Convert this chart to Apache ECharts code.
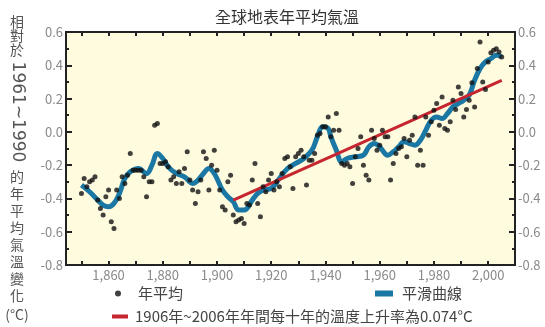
<!DOCTYPE html>
<html>
<head>
<meta charset="utf-8">
<script src="https://cdn.jsdelivr.net/npm/echarts@6/dist/echarts.min.js"></script>
<style>
html,body{margin:0;padding:0;background:#fff}
#main{width:545px;height:327px}
</style>
</head>
<body>
<div id="main"></div>
<script>
// 年平均 (1850 起逐年)
var annualStart = 1850;
var annualValues = [
  -0.37,-0.28,-0.33,-0.30,-0.29,-0.27,-0.41,-0.46,-0.50,-0.39,
  -0.35,-0.54,-0.58,-0.35,-0.40,-0.27,-0.31,-0.26,-0.13,-0.23,
  -0.23,-0.23,-0.23,-0.27,-0.39,-0.30,-0.30, 0.04, 0.05,-0.19,
  -0.19,-0.18,-0.21,-0.29,-0.27,-0.31,-0.24,-0.31,-0.22,-0.12,
  -0.29,-0.35,-0.43,-0.36,-0.29,-0.12,-0.16,-0.35,-0.20,-0.11,
  -0.23,-0.35,-0.45,-0.47,-0.30,-0.26,-0.50,-0.54,-0.53,-0.52,
  -0.55,-0.43,-0.44,-0.29,-0.19,-0.43,-0.51,-0.33,-0.36,-0.29,
  -0.25,-0.35,-0.30,-0.33,-0.25,-0.16,-0.15,-0.21,-0.34,-0.15,
  -0.13,-0.11,-0.15,-0.32,-0.17,-0.17,-0.13,-0.02,-0.01, 0.03,
   0.03, 0.09,-0.03, 0.01, 0.11, 0.01,-0.19,-0.20,-0.19,-0.21,
  -0.31,-0.15,-0.10,-0.03,-0.20,-0.26,-0.29, 0.01,-0.04,-0.11,
  -0.08, 0.01,-0.03,-0.03,-0.29,-0.19,-0.13,-0.10,-0.09,-0.04,
  -0.15,-0.05,-0.02, 0.09,-0.20,-0.11,-0.20, 0.09,-0.02, 0.06,
   0.13, 0.17, 0.04, 0.21, 0.02, 0.01, 0.06, 0.19, 0.135,0.27,
   0.23, 0.09, 0.135,0.19, 0.295,0.15, 0.38, 0.54, 0.30, 0.255,
   0.42, 0.475,0.49, 0.50, 0.48, 0.45
];

// 平滑曲線
var smoothYears = [1850,1853,1856,1858,1860,1862,1864,1866,1868,1871,1874,1876,1878,1880,1882,1885,1888,1891,1893,1895,1897,1899,1902,1904,1906,1908,1910,1913,1915,1917,1920,1923,1926,1929,1932,1935,1937,1939,1941,1942,1944,1946,1948,1951,1954,1956,1958,1960,1963,1965,1967,1969,1971,1973,1975,1977,1979,1981,1983,1985,1987,1989,1991,1993,1995,1997,1999,2001,2003,2005];
var smoothValues = [-0.32,-0.36,-0.41,-0.44,-0.45,-0.43,-0.37,-0.28,-0.24,-0.22,-0.25,-0.20,-0.13,-0.16,-0.21,-0.25,-0.27,-0.31,-0.29,-0.25,-0.22,-0.25,-0.35,-0.39,-0.42,-0.47,-0.47,-0.41,-0.37,-0.35,-0.34,-0.28,-0.22,-0.19,-0.16,-0.11,-0.03,0.03,0.02,-0.03,-0.11,-0.18,-0.16,-0.15,-0.14,-0.09,-0.07,-0.09,-0.14,-0.12,-0.09,-0.06,-0.07,-0.08,-0.05,0.01,0.07,0.09,0.08,0.11,0.15,0.17,0.19,0.22,0.31,0.38,0.42,0.44,0.46,0.45];

// 趨勢線端點
var trendYears = [1906, 2005];
var trendValues = [-0.41, 0.31];

var xTickYears = [1850,1860,1870,1880,1890,1900,1910,1920,1930,1940,1950,1960,1970,1980,1990,2000];
var xLabelYears = [1860,1880,1900,1920,1940,1960,1980,2000];

var titleText = '全球地表年平均氣溫';
var annualName = '年平均';
var smoothName = '平滑曲線';
var trendName = '1906年~2006年年間每十年的溫度上升率為0.074°C';

var cjk = '"Noto Sans CJK TC", "Noto Sans", sans-serif';
var axisColor = '#222';
var labelColor = '#8a8a8a';

var scatterData = annualValues.map(function (v, i) { return [annualStart + i, v]; });
var smoothData = smoothYears.map(function (y, i) { return [y, smoothValues[i]]; });
var trendData = trendYears.map(function (y, i) { return [y, trendValues[i]]; });

function xAxisOpt(pos, showLabel) {
  return {
    type: 'value', position: pos, min: 1844.3, max: 2009.9,
    axisLine: { show: true, onZero: false, lineStyle: { color: axisColor, width: 2 } },
    axisTick: { show: true, inside: true, length: 4, customValues: xTickYears, lineStyle: { color: axisColor, width: 2 } },
    axisLabel: { show: showLabel, customValues: xLabelYears, color: labelColor, fontSize: 13, margin: 4, fontFamily: cjk },
    splitLine: { show: false }
  };
}
function yAxisOpt(pos) {
  return {
    type: 'value', position: pos, min: -0.8, max: 0.6, interval: 0.2,
    axisLine: { show: true, onZero: false, lineStyle: { color: axisColor, width: 2 } },
    axisTick: { show: true, inside: true, length: 6, lineStyle: { color: axisColor, width: 2 } },
    minorTick: { show: true, splitNumber: 2, length: 3, lineStyle: { color: axisColor, width: 2 } },
    axisLabel: { color: labelColor, fontSize: 13, margin: 3, fontFamily: cjk,
      formatter: function (v) { return v.toFixed(1); } },
    splitLine: { show: false }, minorSplitLine: { show: false }
  };
}

var chart = echarts.init(document.getElementById('main'));
chart.setOption({
  animation: false,
  title: {
    text: titleText, left: 210, top: 4,
    textStyle: { fontSize: 16, fontWeight: 'normal', color: '#333', fontFamily: cjk }
  },
  grid: {
    left: 66, right: 30, top: 32, bottom: 62, containLabel: false, outerBoundsMode: 'none',
    show: true, backgroundColor: '#fefbdf', borderColor: axisColor, borderWidth: 2
  },
  legend: [
    { data: [annualName], left: 115, top: 286, padding: 0, icon: 'circle', itemWidth: 6, itemHeight: 6,
      selectedMode: false, textStyle: { fontSize: 15, color: '#444', fontFamily: cjk, padding: [0, 0, 0, 12] } },
    { data: [smoothName], left: 375, top: 286, padding: 0, icon: 'rect', itemWidth: 18, itemHeight: 6,
      selectedMode: false, textStyle: { fontSize: 15, color: '#444', fontFamily: cjk, padding: [0, 0, 0, 4] } },
    { data: [trendName], left: 112, top: 309, padding: 0, icon: 'rect', itemWidth: 16, itemHeight: 4,
      selectedMode: false, textStyle: { fontSize: 15, color: '#444', fontFamily: cjk, padding: [0, 0, 0, 2] } }
  ],
  xAxis: [xAxisOpt('bottom', true), xAxisOpt('top', false)],
  yAxis: [yAxisOpt('left'), yAxisOpt('right')],
  graphic: [
    { type: 'text', x: 17, y: 15, style: { text: '相\n對\n於', fontSize: 14, lineHeight: 14, fontFamily: cjk, fill: '#555', align: 'center', verticalAlign: 'top' } },
    { type: 'text', x: 17, y: 112, rotation: -Math.PI / 2, style: { text: '1961~1990', fontSize: 17, fontFamily: '"DejaVu Sans"', fill: '#555', align: 'center', verticalAlign: 'middle' } },
    { type: 'text', x: 17, y: 168, style: { text: '的\n年\n平\n均\n氣\n溫\n變\n化', fontSize: 14, lineHeight: 17, fontFamily: cjk, fill: '#555', align: 'center', verticalAlign: 'top' } },
    { type: 'text', x: 17, y: 315, style: { text: '(°C)', fontSize: 14, fontFamily: cjk, fill: '#555', align: 'center', verticalAlign: 'middle' } }
  ],
  series: [
    { name: smoothName, type: 'line', data: smoothData, smooth: 0.4, symbol: 'none', z: 2,
      lineStyle: { color: '#1b78a4', width: 5 }, itemStyle: { color: '#1b78a4' } },
    { name: trendName, type: 'line', data: trendData, symbol: 'none', z: 3,
      lineStyle: { color: '#c52630', width: 3 }, itemStyle: { color: '#c52630' } },
    { name: annualName, type: 'scatter', data: scatterData, symbolSize: 5, z: 4,
      itemStyle: { color: '#111' } }
  ]
});
</script>
</body>
</html>
